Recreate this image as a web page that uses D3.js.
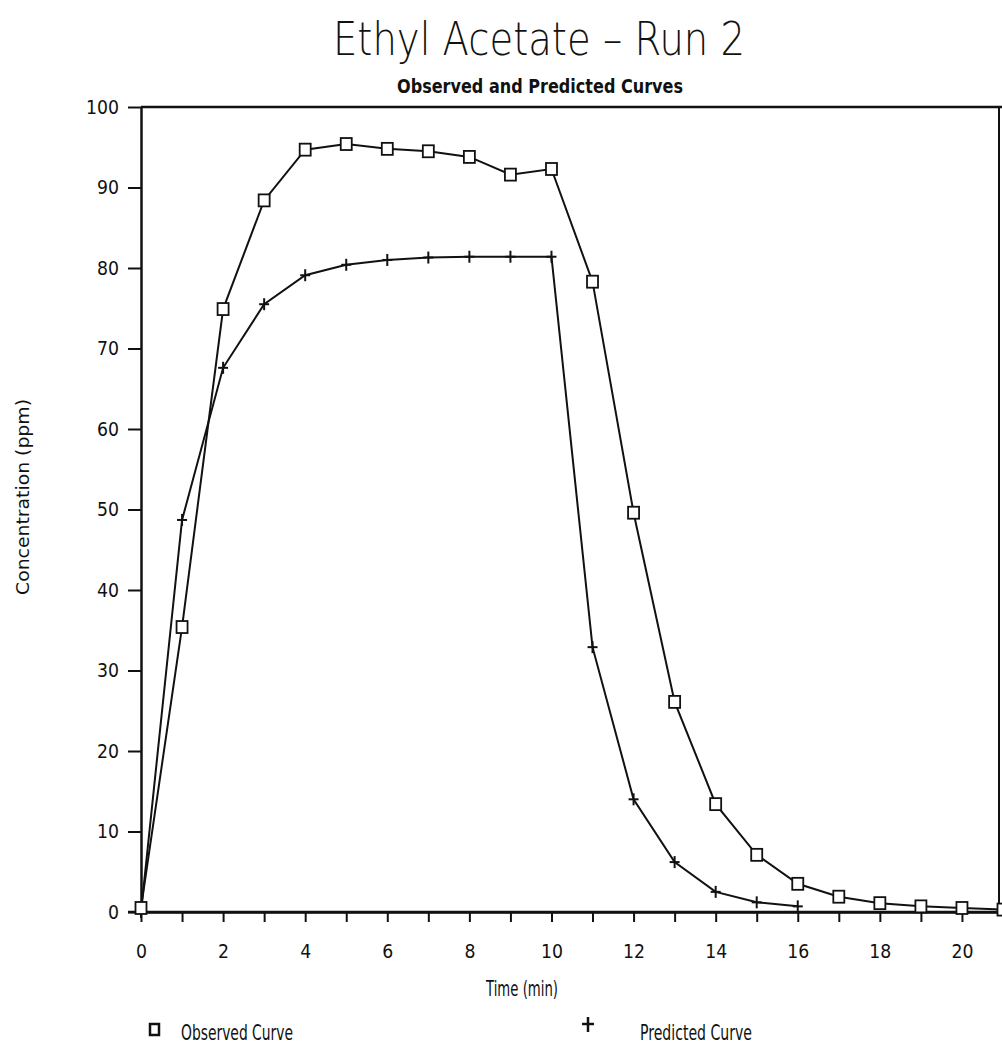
<!DOCTYPE html>
<html>
<head>
<meta charset="utf-8">
<script src="https://cdn.jsdelivr.net/npm/d3@7"></script>
<style>
  body { margin: 0; background: #fff; }
  svg { display: block; }
  text { fill: #111; }
</style>
</head>
<body>
<svg></svg>
<script>
var width = 1002;
var height = 1051;

// time in minutes
var timeObserved = [0, 1, 2, 3, 4, 5, 6, 7, 8, 9, 10, 11, 12, 13, 14, 15, 16, 17, 18, 19, 20, 21];
var observedPpm = [0.5, 35.4, 74.9, 88.4, 94.7, 95.4, 94.8, 94.5, 93.8, 91.6, 92.3, 78.3, 49.6, 26.1, 13.4, 7.1, 3.5, 1.9, 1.1, 0.7, 0.5, 0.3];

var timePredicted = [0, 1, 2, 3, 4, 5, 6, 7, 8, 9, 10, 11, 12, 13, 14, 15, 16];
var predictedPpm = [0, 48.7, 67.6, 75.5, 79.1, 80.4, 81.0, 81.3, 81.4, 81.4, 81.4, 32.9, 14.0, 6.2, 2.5, 1.2, 0.7];

var xTicks = d3.range(0, 22);
var yTicks = [0, 10, 20, 30, 40, 50, 60, 70, 80, 90, 100];

var svg = d3.select("svg")
    .attr("width", width)
    .attr("height", height);

var x = d3.scaleLinear().domain([0, 21]).range([141, 1003]);
var y = d3.scaleLinear().domain([0, 100]).range([912, 107]);

var font = "'DejaVu Sans', sans-serif";

// frame (top + right)
svg.append("line")
    .attr("x1", x(0)).attr("x2", width)
    .attr("y1", y(100)).attr("y2", y(100))
    .attr("stroke", "#111").attr("stroke-width", 2.5);
svg.append("line")
    .attr("x1", 999).attr("x2", 999)
    .attr("y1", y(100)).attr("y2", y(0))
    .attr("stroke", "#111").attr("stroke-width", 2);

// axes
svg.append("g")
    .attr("transform", "translate(0," + y(0) + ")")
    .call(d3.axisBottom(x)
        .tickValues(xTicks)
        .tickSize(10)
        .tickSizeOuter(0)
        .tickPadding(22)
        .tickFormat(d => d % 2 == 0 && d <= 20 ? d : ""));

svg.append("g")
    .attr("transform", "translate(" + x(0) + ",0)")
    .call(d3.axisLeft(y)
        .tickValues(yTicks)
        .tickSize(13)
        .tickSizeOuter(0)
        .tickPadding(9));

svg.selectAll(".domain").attr("stroke", "#111").attr("stroke-width", 2.5);
svg.selectAll(".tick line").attr("stroke", "#111").attr("stroke-width", 2);
svg.selectAll(".tick text")
    .attr("font-family", font)
    .attr("font-size", 20)
    .attr("fill", "#111")
    .filter(function() { return this.textContent.length > 0; })
    .attr("textLength", function() { return this.textContent.length * 11; })
    .attr("lengthAdjust", "spacingAndGlyphs");

// x axis line runs a bit left of the y axis
svg.append("line")
    .attr("x1", 128).attr("x2", width)
    .attr("y1", y(0)).attr("y2", y(0))
    .attr("stroke", "#111").attr("stroke-width", 2.5);

// lines
var line = d3.line()
    .x(d => x(d[0]))
    .y(d => y(d[1]));

var obsData = d3.zip(timeObserved, observedPpm);
var predData = d3.zip(timePredicted, predictedPpm);

svg.append("path")
    .datum(predData)
    .attr("d", line)
    .attr("fill", "none")
    .attr("stroke", "#111")
    .attr("stroke-width", 2);

svg.append("path")
    .datum(obsData)
    .attr("d", line)
    .attr("fill", "none")
    .attr("stroke", "#111")
    .attr("stroke-width", 2);

// plus markers
var plus = svg.append("g").selectAll("g")
    .data(predData)
    .join("g")
    .attr("transform", d => "translate(" + x(d[0]) + "," + y(d[1]) + ")");
plus.append("line")
    .attr("x1", -5).attr("x2", 5)
    .attr("stroke", "#111").attr("stroke-width", 2);
plus.append("line")
    .attr("y1", -6).attr("y2", 6)
    .attr("stroke", "#111").attr("stroke-width", 2);

// square markers
svg.append("g").selectAll("rect")
    .data(obsData)
    .join("rect")
    .attr("x", d => x(d[0]) - 5.5)
    .attr("y", d => y(d[1]) - 6)
    .attr("width", 11)
    .attr("height", 12)
    .attr("fill", "#fff")
    .attr("stroke", "#111")
    .attr("stroke-width", 1.8);

// titles
svg.append("text")
    .attr("x", 539).attr("y", 55)
    .attr("text-anchor", "middle")
    .attr("font-family", font)
    .attr("font-weight", 300)
    .attr("font-size", 47)
    .attr("textLength", 412)
    .attr("lengthAdjust", "spacingAndGlyphs")
    .text("Ethyl Acetate \u2013 Run 2");

svg.append("text")
    .attr("x", 540).attr("y", 93)
    .attr("text-anchor", "middle")
    .attr("font-family", font)
    .attr("font-weight", "bold")
    .attr("font-size", 19)
    .attr("textLength", 286)
    .attr("lengthAdjust", "spacingAndGlyphs")
    .text("Observed and Predicted Curves");

svg.append("text")
    .attr("transform", "translate(29,497) rotate(-90)")
    .attr("text-anchor", "middle")
    .attr("font-family", font)
    .attr("font-size", 18)
    .attr("textLength", 196)
    .attr("lengthAdjust", "spacingAndGlyphs")
    .text("Concentration (ppm)");

svg.append("text")
    .attr("x", 522).attr("y", 996)
    .attr("text-anchor", "middle")
    .attr("font-family", font)
    .attr("font-size", 21)
    .attr("textLength", 72)
    .attr("lengthAdjust", "spacingAndGlyphs")
    .text("Time (min)");

// legend
svg.append("rect")
    .attr("x", 150).attr("y", 1024)
    .attr("width", 9).attr("height", 11)
    .attr("fill", "#fff").attr("stroke", "#111").attr("stroke-width", 2.5);
svg.append("text")
    .attr("x", 181).attr("y", 1040)
    .attr("font-family", font)
    .attr("font-size", 21)
    .attr("textLength", 112)
    .attr("lengthAdjust", "spacingAndGlyphs")
    .text("Observed Curve");

svg.append("line")
    .attr("x1", 582).attr("x2", 594).attr("y1", 1024).attr("y2", 1024)
    .attr("stroke", "#111").attr("stroke-width", 2.5);
svg.append("line")
    .attr("x1", 588).attr("x2", 588).attr("y1", 1017).attr("y2", 1032)
    .attr("stroke", "#111").attr("stroke-width", 2.5);
svg.append("text")
    .attr("x", 640).attr("y", 1040)
    .attr("font-family", font)
    .attr("font-size", 21)
    .attr("textLength", 112)
    .attr("lengthAdjust", "spacingAndGlyphs")
    .text("Predicted Curve");
</script>
</body>
</html>
